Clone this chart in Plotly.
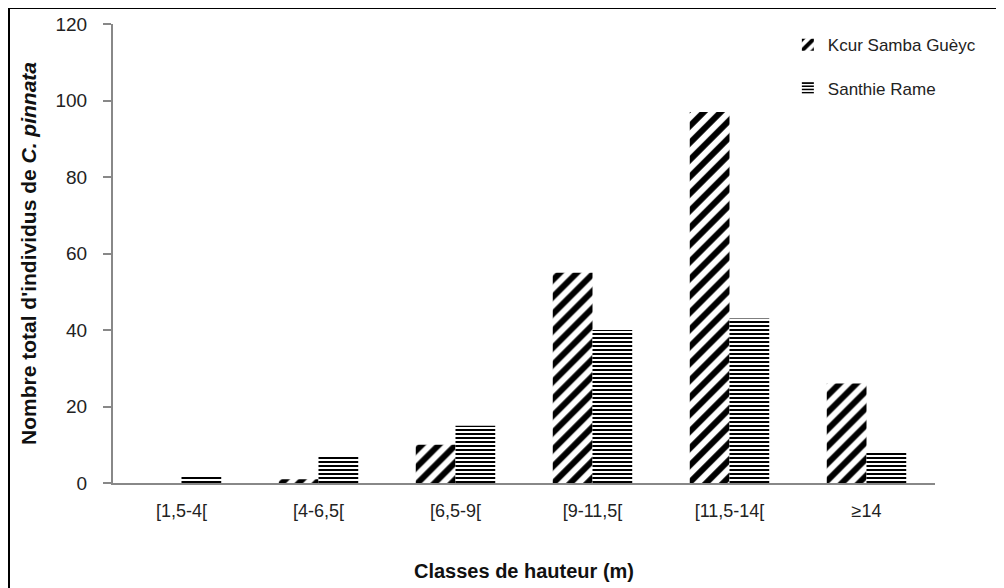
import plotly.graph_objects as go

categories = ["[1,5-4[", "[4-6,5[", "[6,5-9[", "[9-11,5[", "[11,5-14[", "≥14"]
kcur = [0, 1, 10, 55, 97, 26]
santhie = [2, 7, 15, 40, 43, 8]
series_names = ["Kcur Samba Guèyc", "Santhie Rame"]
y_ticks = [0, 20, 40, 60, 80, 100, 120]

W, H = 1004, 588
L, R, T, B = 105, 77, 16, 113
pw, ph = W - L - R, H - T - B

fig = go.Figure()
fig.add_trace(go.Bar(
    x=categories, y=kcur, name=series_names[0], legendgroup="a",
    marker=dict(color="white", line=dict(width=0),
                pattern=dict(shape="/", fgcolor="black", bgcolor="white", fgopacity=1,
                             size=12, solidity=0.5, fillmode="overlay")),
))
fig.add_trace(go.Bar(
    x=categories, y=santhie, name=series_names[1], legendgroup="b",
    marker=dict(color="white", line=dict(width=0),
                pattern=dict(shape="-", fgcolor="black", bgcolor="white", fgopacity=1,
                             size=4, solidity=0.5, fillmode="overlay")),
))

font_main = "Liberation Sans Narrow, Arial Narrow, Liberation Sans, Arial, sans-serif"

fig.update_layout(
    width=W, height=H,
    margin=dict(l=L, r=R, t=T, b=B, autoexpand=False),
    paper_bgcolor="white", plot_bgcolor="white",
    barmode="group", bargap=0.42, bargroupgap=0,
    font=dict(family="Liberation Sans, Arial, sans-serif", size=18, color="#222"),
    showlegend=True,
    legend=dict(x=0.821, y=0.993, xanchor="left", yanchor="top",
                bgcolor="rgba(0,0,0,0)", font=dict(size=17, color="#222"),
                traceorder="grouped", tracegroupgap=18, itemwidth=30),
    xaxis=dict(showline=True, linecolor="#888", linewidth=2, ticks="",
               showgrid=False, tickfont=dict(size=18, color="#222"),
               ticklabelstandoff=10, automargin=False,
               title=dict(text="Classes de hauteur (m)", standoff=44,
                          font=dict(family=font_main, size=20, color="#111", weight="bold"))),
    yaxis=dict(range=[0, 120], tickvals=y_ticks, showline=True, linecolor="#888",
               linewidth=2, ticks="outside", ticklen=8, tickcolor="#888", tickwidth=2,
               showgrid=False, zeroline=False, ticklabelstandoff=12, automargin=False,
               tickfont=dict(size=19, color="#222"),
               title=dict(text="Nombre total d'individus de <i>C. pinnata</i>", standoff=13,
                          font=dict(family=font_main, size=21, color="#111", weight="bold"))),
)

# outer frame (cropped chart border)
fig.add_shape(type="rect", xref="paper", yref="paper",
              x0=(1 - L) / pw, x1=(W + 20 - L) / pw,
              y0=-(B + 20) / ph, y1=(ph + T - 0) / ph,
              line=dict(color="black", width=2), fillcolor="rgba(0,0,0,0)", layer="below")

fig.write_html("out.html")
